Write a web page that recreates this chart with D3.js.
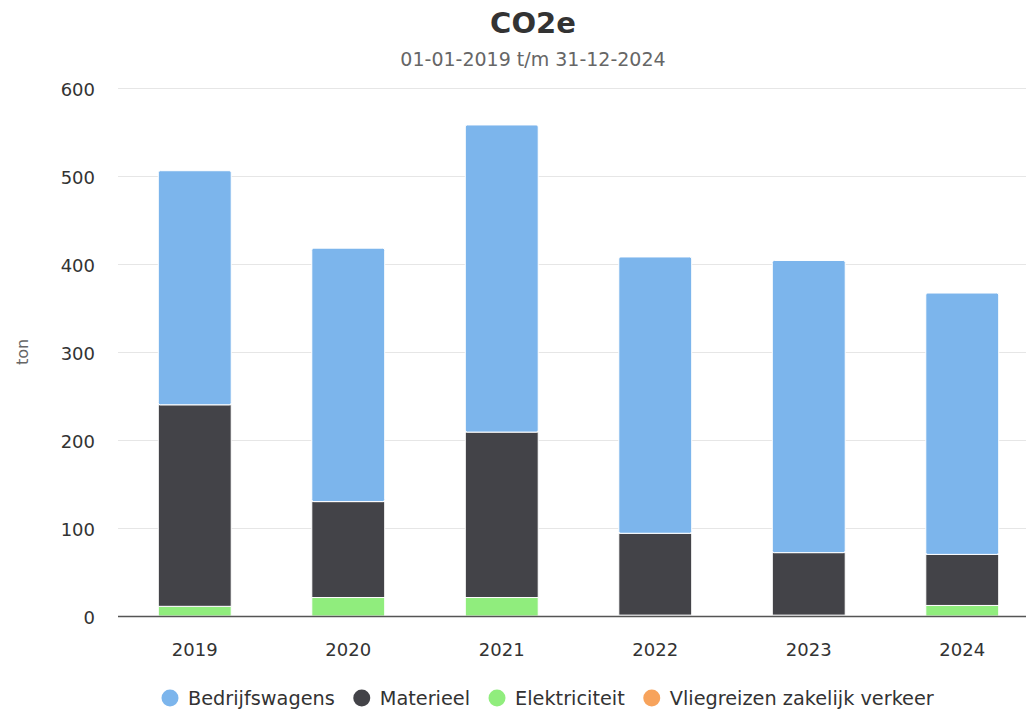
<!DOCTYPE html>
<html><head><meta charset="utf-8">
<script src="https://cdn.jsdelivr.net/npm/d3@7"></script>
<style>body{margin:0;background:#fff;font-family:"DejaVu Sans",sans-serif;}</style>
</head><body>
<svg id="chart" width="1026" height="710"></svg>
<script>
const categories = ["2019","2020","2021","2022","2023","2024"];
const seriesNames = ["Bedrijfswagens","Materieel","Elektriciteit","Vliegreizen zakelijk verkeer"];
const bedrijfswagens = [266, 288, 349, 314, 332, 297];
const materieel = [229, 109, 188, 93, 71, 58];
const elektriciteit = [11, 21, 21, 1, 1, 12];
const vliegreizen = [0, 0, 0, 0, 0, 0];
const yTicks = [0,100,200,300,400,500,600];
const colors = ["#7cb5ec","#434348","#90ed7d","#f7a35c"];

const svg = d3.select("#chart");
const W = 1026, H = 710;
const m = {left:118, top:88, bottom:94};
const plotRight = 1039;
const x = d3.scaleBand().domain(categories).range([m.left, plotRight]).paddingInner(0.525).paddingOuter(0.2625);
const y = d3.scaleLinear().domain([0,600]).range([H-m.bottom, m.top]);

svg.append("text").attr("x",533).attr("y",33).attr("text-anchor","middle")
  .attr("font-size",29).attr("font-weight","bold").attr("fill","#333").text("CO2e");
svg.append("text").attr("x",533).attr("y",66).attr("text-anchor","middle")
  .attr("font-size",19).attr("fill","#666").text("01-01-2019 t/m 31-12-2024");

// grid
svg.append("g").selectAll("line").data(yTicks.filter(d=>d>0)).join("line")
  .attr("x1",m.left).attr("x2",W).attr("y1",d=>Math.round(y(d))+0.5).attr("y2",d=>Math.round(y(d))+0.5)
  .attr("stroke","#e6e6e6").attr("stroke-width",1);

const yAxis = svg.append("g").attr("transform",`translate(95,0)`)
  .call(d3.axisLeft(y).tickValues(yTicks).tickSize(0).tickPadding(0));
yAxis.select(".domain").remove();
yAxis.selectAll("text").attr("font-size",18).attr("fill","#333").attr("font-family","DejaVu Sans").attr("dy","0.39em");

svg.append("text").attr("transform",`translate(28,${y(300)}) rotate(-90)`).attr("text-anchor","middle")
  .attr("font-size",16).attr("fill","#666").text("ton");

// stacked bars
const rows = categories.map((c,i)=>({cat:c, s0:vliegreizen[i], s1:elektriciteit[i], s2:materieel[i], s3:bedrijfswagens[i]}));
const stack = d3.stack().keys(["s0","s1","s2","s3"]);
const stacked = stack(rows);
const keyColor = {s0:colors[3], s1:colors[2], s2:colors[1], s3:colors[0]};
svg.append("g").selectAll("g").data(stacked).join("g").attr("fill",d=>keyColor[d.key])
  .selectAll("rect").data(d=>d).join("rect")
  .attr("x",d=>x(d.data.cat)).attr("width",x.bandwidth())
  .attr("y",d=>y(d[1])).attr("height",d=>Math.max(0,y(d[0])-y(d[1])))
  .attr("rx",d=>d[1]-d[0]>0 && d[1]===d.data.s0+d.data.s1+d.data.s2+d.data.s3 ? 2 : 0)
  .attr("stroke","#fff").attr("stroke-width",1);

// x axis
svg.append("line").attr("x1",m.left).attr("x2",W).attr("y1",y(0)+0.5).attr("y2",y(0)+0.5)
  .attr("stroke","#555").attr("stroke-width",1.5);
const xAxis = svg.append("g").attr("transform",`translate(0,${y(0)})`)
  .call(d3.axisBottom(x).tickSize(0).tickPadding(0));
xAxis.select(".domain").remove();
xAxis.selectAll("text").attr("font-size",18).attr("fill","#333").attr("font-family","DejaVu Sans")
  .attr("dy",null).attr("y",40);

// legend
const lg = svg.append("g");
const fs = 19.3;
const tmp = svg.append("text").attr("font-size",fs);
const widths = seriesNames.map(n=>{tmp.text(n); return tmp.node().getComputedTextLength();});
tmp.remove();
let cx = 170;
seriesNames.forEach((n,i)=>{
  lg.append("circle").attr("cx",cx).attr("cy",698).attr("r",8.5).attr("fill",colors[i]);
  lg.append("text").attr("x",cx+18).attr("y",705).attr("font-size",fs).attr("fill","#333").text(n);
  cx += 18 + widths[i] + 27;
});
</script>
</body></html>
